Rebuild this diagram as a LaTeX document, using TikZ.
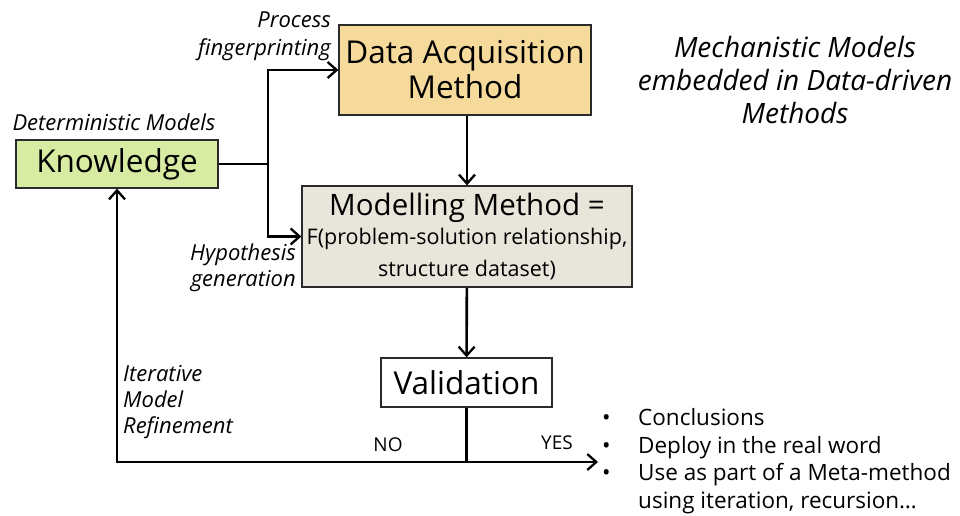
\documentclass[tikz,border=0pt]{standalone}
\usepackage{fontspec}
\setmainfont{Open Sans}
\usetikzlibrary{positioning, arrows.meta}
\definecolor{knowgreen}{HTML}{D7EBA2}
\definecolor{acqyellow}{HTML}{F6DA9C}
\definecolor{modelgray}{HTML}{E8E6DB}
\definecolor{edgegray}{HTML}{2A2A2A}

\begin{document}
\begin{tikzpicture}[
        x=1pt, y=-1pt,
        box/.style={draw=edgegray, line width=1.3pt, inner sep=0pt, align=center, font=\fontsize{31.5}{35}\selectfont},
        know/.style={box, fill=knowgreen, minimum width=202pt, minimum height=48pt},
        acq/.style={box, fill=acqyellow, minimum width=252pt, minimum height=90pt},
        model/.style={box, fill=modelgray, minimum width=330pt, minimum height=101pt},
        valid/.style={box, fill=white, minimum width=171pt, minimum height=49pt},
        note/.style={inner sep=0pt, font=\itshape\fontsize{22}{26}\selectfont},
        answer/.style={inner sep=0pt, font=\fontsize{19}{22}\selectfont},
        arrow/.style={-{Straight Barb[length=9pt, width=16pt, line width=2.3pt]}, line width=2.6pt},
        line/.style={line width=2.6pt}
    ]
    \useasboundingbox (0,0) rectangle (960,515);

    \node[know] (Knowledge) at (117,164) {Knowledge};
    \node[acq] (Acquisition) at (465,70) {Data Acquisition\\Method};
    \node[model] (Modelling) at (467,236.5) {\fontsize{29.5}{33}\selectfont Modelling Method =\\[-6pt]
        \fontsize{21.5}{25}\selectfont F(problem-solution relationship,\\[-3pt]
        \fontsize{21.5}{25}\selectfont structure dataset)};
    \node[valid] (Validation) at (466.5,382.5) {Validation};

    \node[note] (Deterministic) at (114,122) {Deterministic Models};
    \node[note, align=right, anchor=east, font=\itshape\fontsize{22}{28}\selectfont] (Process) at (331,36) {Process\\fingerprinting};
    \node[note, align=right, anchor=east] (Hypothesis) at (296,268) {Hypothesis\\generation};
    \node[note, align=left, anchor=west] (Refinement) at (123,402) {Iterative\\Model\\Refinement};
    \node[note, align=center, font=\itshape\fontsize{28}{33}\selectfont] (Mechanistic) at (795,80) {Mechanistic Models\\embedded in Data-driven\\Methods};

    \node[answer] (No) at (388,445) {NO};
    \node[answer] (Yes) at (557,443) {YES};
    \node[inner sep=0pt, align=left, anchor=west, font=\fontsize{22.5}{27.7}\selectfont] (Outcomes) at (602,461) {%
        \makebox[36pt][l]{•}Conclusions\\
        \makebox[36pt][l]{•}Deploy in the real word\\
        \makebox[36pt][l]{•}Use as part of a Meta-method\\
        \makebox[36pt][l]{}using iteration, recursion…};

    \coordinate (split) at (268,164);
    \coordinate (junction) at (466.5,462);
    \coordinate (yesend) at (598,462);
    \coordinate (noend) at (117,462);

    \draw[line] (Knowledge.east) -- (split);
    \draw[arrow] (split) |- (Acquisition.west);
    \draw[arrow] (split) |- (Modelling.west);
    \draw[arrow] (Acquisition.south -| Modelling.north) -- (Modelling.north);
    \draw[arrow] (Modelling) -- (Validation);
    \draw[line] (Validation) -- (junction);
    \draw[arrow] (junction) -- (yesend);
    \draw[arrow] (junction) -- (noend) -- (Knowledge);

\end{tikzpicture}
\end{document}
